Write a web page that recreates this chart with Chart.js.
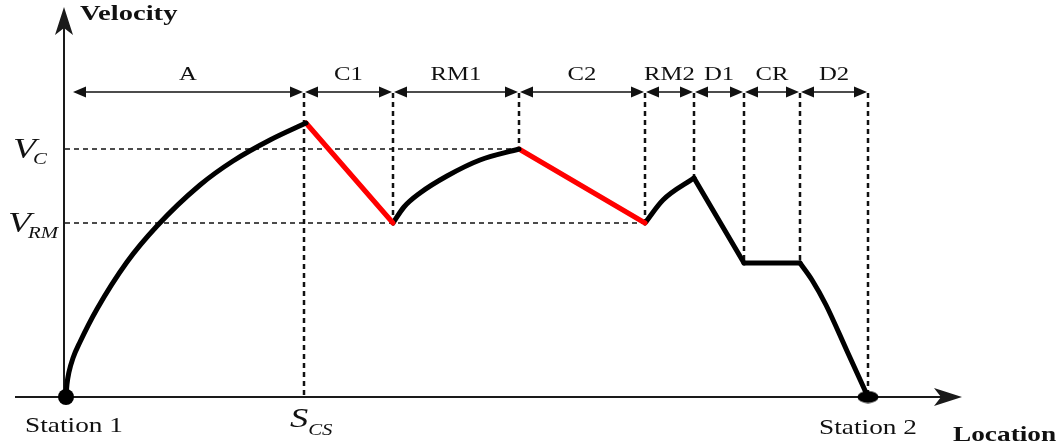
<!DOCTYPE html>
<html>
<head>
<meta charset="utf-8">
<title>Velocity profile</title>
<script src="https://cdn.jsdelivr.net/npm/chart.js@4.4.1/dist/chart.umd.min.js"></script>
<style>
  html, body { margin: 0; padding: 0; background: #fff; }
  #wrap { width: 1062px; height: 444px; }
</style>
</head>
<body>
<div id="wrap"><canvas id="profileChart" width="1062" height="444"></canvas></div>
<script>
// stations at both ends of the run
const stationLoc = [0, 802];
const stationNames = ['Station 1', 'Station 2'];

// velocity levels marked on the y axis
const vC = 248;
const vRM = 174;
const levelNames = [['V', 'C'], ['V', 'RM']];

// sections along the route (edges) and their names
const sectionEdges = [6, 238, 327, 453, 579, 628, 678, 734, 802];
const sectionNames = ['A', 'C1', 'RM1', 'C2', 'RM2', 'D1', 'CR', 'D2'];
const guideBottom = [0, vRM, vC, vRM, 219, 134, 134, 0];
const guideTop = 304;

// velocity profile, one piece per section
const locA = [0, 1, 3, 7, 14, 31, 61, 91, 134, 167, 204, 240];
const velA = [0, 13, 25, 39, 55, 88, 135, 171, 212, 236, 257, 274];
const locC1 = [240, 327];
const velC1 = [274, vRM];
const locRM1 = [327, 338, 354, 381, 414, 453];
const velRM1 = [vRM, 190, 204, 221, 237, vC];
const locC2 = [453, 579];
const velC2 = [vC, vRM];
const locRM2 = [579, 597, 628];
const velRM2 = [vRM, 197, 219];
const locD1 = [628, 678];
const velD1 = [219, 134];
const locCR = [678, 734];
const velCR = [134, 134];
const locD2 = [734, 746, 760, 781, 802];
const velD2 = [134, 117, 92, 46, 0];

const serif = "'Liberation Serif', 'Times New Roman', serif";
const stretch = 1.3; // the original figure is widened, text included

function pts(xs, ys) {
    return xs.map(function(x, i) { return { x: x, y: ys[i] }; });
}

function piece(xs, ys, color, smooth) {
    return {
        data: pts(xs, ys),
        showLine: true,
        borderColor: color,
        borderWidth: 5,
        pointRadius: 0,
        borderCapStyle: 'round',
        borderJoinStyle: 'round',
        cubicInterpolationMode: smooth ? 'monotone' : 'default',
        tension: 0
    };
}

function guide(xs, ys, width, dash) {
    return {
        data: pts(xs, ys),
        showLine: true,
        borderColor: '#111',
        borderWidth: width,
        borderDash: dash,
        pointRadius: 0,
        tension: 0
    };
}

// little ellipse for the second station
const ellipseDot = document.createElement('canvas');
ellipseDot.width = 22;
ellipseDot.height = 13;
(function() {
    const c = ellipseDot.getContext('2d');
    c.fillStyle = '#000';
    c.beginPath();
    c.ellipse(11, 6.5, 10.5, 6, 0, 0, Math.PI * 2);
    c.fill();
})();

const datasets = [
    {
        data: pts(stationLoc, [0, 0]),
        pointStyle: ['circle', ellipseDot],
        pointRadius: [8, 8],
        pointBackgroundColor: '#000',
        pointBorderWidth: 0,
        showLine: false
    },
    piece(locA, velA, '#000', true),
    piece(locC1, velC1, '#ff0000', false),
    piece(locRM1, velRM1, '#000', true),
    piece(locC2, velC2, '#ff0000', false),
    piece(locRM2, velRM2, '#000', true),
    piece(locD1, velD1, '#000', false),
    piece(locCR, velCR, '#000', false),
    piece(locD2, velD2, '#000', true),
    guide([-1, 453], [vC, vC], 1.3, [5, 4]),
    guide([-1, 579], [vRM, vRM], 1.3, [5, 4])
];

// dotted lines dropping from each section edge
for (let i = 1; i < sectionEdges.length; i++) {
    datasets.push(guide([sectionEdges[i], sectionEdges[i]], [guideTop, guideBottom[i - 1]], 2.5, [5, 4]));
}

function wideText(ctx, str, x, y, font, align) {
    ctx.save();
    ctx.font = font;
    const w = ctx.measureText(str).width * stretch;
    const left = align === 'center' ? x - w / 2 : x;
    ctx.translate(left, y);
    ctx.scale(stretch, 1);
    ctx.textAlign = 'left';
    ctx.textBaseline = 'alphabetic';
    ctx.fillText(str, 0, 0);
    ctx.restore();
    return w;
}

function openArrow(ctx, tx, ty, dx, dy) {
    // stealth style arrow head, (dx, dy) is the direction it points
    const px = -dy, py = dx;
    ctx.beginPath();
    ctx.moveTo(tx, ty);
    ctx.lineTo(tx - dx * 28 + px * 9, ty - dy * 28 + py * 9);
    ctx.lineTo(tx - dx * 21, ty - dy * 21);
    ctx.lineTo(tx - dx * 28 - px * 9, ty - dy * 28 - py * 9);
    ctx.closePath();
    ctx.fill();
}

function solidHead(ctx, tx, ty, dir) {
    ctx.beginPath();
    ctx.moveTo(tx, ty);
    ctx.lineTo(tx - dir * 13, ty - 5.5);
    ctx.lineTo(tx - dir * 13, ty + 5.5);
    ctx.closePath();
    ctx.fill();
}

const schematic = {
    id: 'schematic',
    beforeDatasetsDraw: function(chart) {
        const ctx = chart.ctx;
        const xs = chart.scales.x, ys = chart.scales.y;
        const ax = xs.getPixelForValue(-2);
        const ay = ys.getPixelForValue(0);
        ctx.save();
        ctx.strokeStyle = '#1a1a1a';
        ctx.fillStyle = '#1a1a1a';
        ctx.lineWidth = 2;
        // y axis
        ctx.beginPath();
        ctx.moveTo(ax, ay + 4);
        ctx.lineTo(ax, ys.getPixelForValue(385));
        ctx.stroke();
        openArrow(ctx, ax, ys.getPixelForValue(390), 0, -1);
        // x axis
        ctx.beginPath();
        ctx.moveTo(xs.getPixelForValue(-51), ay);
        ctx.lineTo(xs.getPixelForValue(890), ay);
        ctx.stroke();
        openArrow(ctx, xs.getPixelForValue(896), ay, 1, 0);
        ctx.restore();
    },
    afterDatasetsDraw: function(chart) {
        const ctx = chart.ctx;
        const xs = chart.scales.x, ys = chart.scales.y;
        const ax = xs.getPixelForValue(-2);
        const ay = ys.getPixelForValue(0);
        ctx.save();
        ctx.fillStyle = '#111';
        ctx.strokeStyle = '#111';

        // section spans with arrows and names
        const arrowY = ys.getPixelForValue(guideTop) - 1;
        ctx.lineWidth = 1.5;
        for (let i = 0; i < sectionNames.length; i++) {
            const x1 = xs.getPixelForValue(sectionEdges[i]) + 1;
            const x2 = xs.getPixelForValue(sectionEdges[i + 1]) - 1;
            ctx.beginPath();
            ctx.moveTo(x1 + 6, arrowY);
            ctx.lineTo(x2 - 6, arrowY);
            ctx.stroke();
            solidHead(ctx, x1, arrowY, -1);
            solidHead(ctx, x2, arrowY, 1);
            wideText(ctx, sectionNames[i], (x1 + x2) / 2, arrowY - 12, '19px ' + serif, 'center');
        }

        // axis titles
        wideText(ctx, 'Velocity', ax + 16, 20, 'bold 22px ' + serif, 'left');
        wideText(ctx, 'Location', xs.getPixelForValue(887), ay + 44, 'bold 21px ' + serif, 'left');

        // stations
        wideText(ctx, stationNames[0], xs.getPixelForValue(stationLoc[0]) + 8, ay + 35, '21px ' + serif, 'center');
        wideText(ctx, stationNames[1], xs.getPixelForValue(stationLoc[1]), ay + 37, '21px ' + serif, 'center');

        // S_CS under the end of section A
        const sx = xs.getPixelForValue(sectionEdges[1]);
        const w = wideText(ctx, 'S', sx - 14, ay + 30, 'italic 28px ' + serif, 'left');
        wideText(ctx, 'CS', sx - 14 + w, ay + 38, 'italic 16px ' + serif, 'left');

        // velocity levels
        const levels = [vC, vRM];
        const lefts = [13, 8];
        for (let i = 0; i < levels.length; i++) {
            const py = ys.getPixelForValue(levels[i]);
            const vw = wideText(ctx, levelNames[i][0], lefts[i], py + 9, 'italic 29px ' + serif, 'left');
            wideText(ctx, levelNames[i][1], lefts[i] + vw - 3, py + 15, 'italic 16px ' + serif, 'left');
        }
        ctx.restore();
    }
};

const chart = new Chart(document.getElementById('profileChart'), {
    type: 'scatter',
    data: { datasets: datasets },
    options: {
        responsive: false,
        animation: false,
        layout: { padding: 0, autoPadding: false },
        scales: {
            x: { type: 'linear', min: -66, max: 996, display: false },
            y: { type: 'linear', min: -47, max: 397, display: false }
        },
        plugins: {
            legend: { display: false },
            tooltip: { enabled: false }
        }
    },
    plugins: [schematic]
});
</script>
</body>
</html>
